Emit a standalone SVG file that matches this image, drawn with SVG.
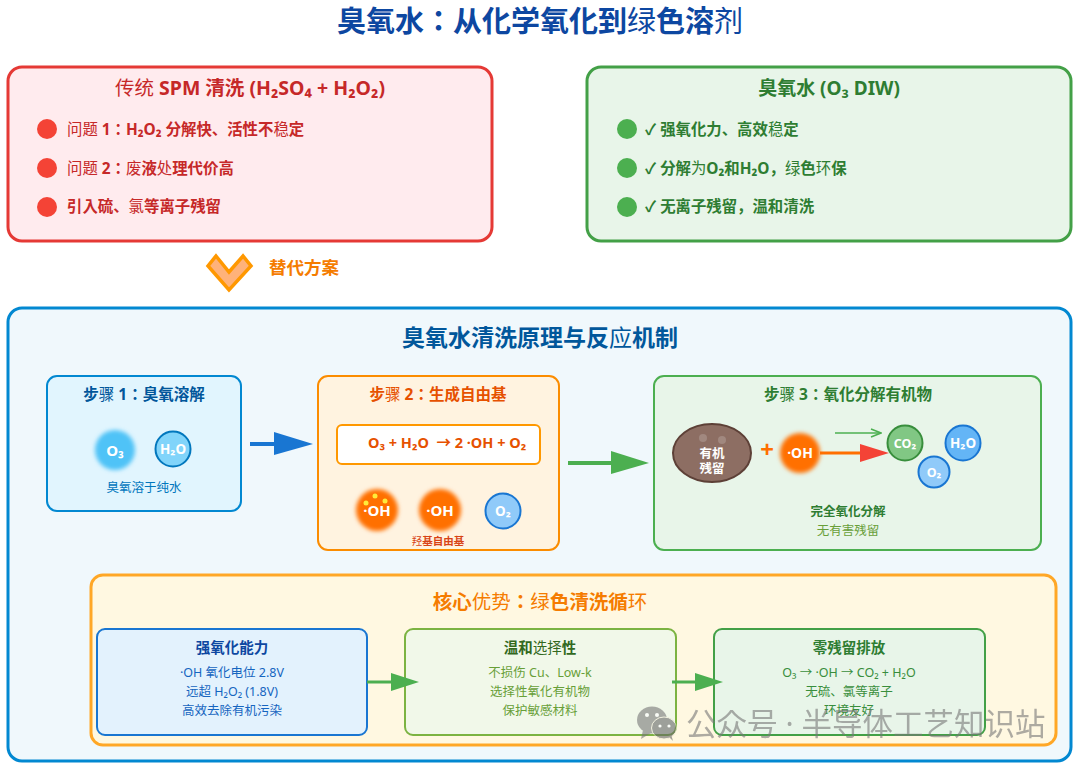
<svg xmlns="http://www.w3.org/2000/svg" width="1080" height="767" viewBox="0 0 1080 767">
<style>
text{font-family:"Noto Sans","Noto Sans CJK JP",sans-serif;text-anchor:middle}
.b{font-weight:700}
.l{text-anchor:start}
.w{fill:#fff;font-weight:700}
.box{stroke-width:3}
.card{stroke-width:2}
.red{fill:#c62828;font-weight:700;font-size:15.4px}
.grn{fill:#2e7d32;font-weight:700;font-size:15.4px}
.t15{font-size:15.5px;font-weight:700}
.t14{font-size:14.5px;font-weight:700}
.t12{font-size:12.5px}
.oh{fill:#ff6f00;filter:url(#blur)}
.n{font-weight:400}
</style>
<defs>
<filter id="blur" x="-30%" y="-30%" width="160%" height="160%"><feGaussianBlur stdDeviation="2"/></filter>
<marker id="open" markerWidth="12" markerHeight="10" refX="11" refY="5" orient="auto" markerUnits="userSpaceOnUse"><path d="M1 1 L11 5 L1 9" fill="none" stroke="#4caf50" stroke-width="1.5"/></marker>
</defs>
<rect width="1080" height="767" fill="#fff"/>
<text id="title" x="540" y="32" font-size="29" class="b" fill="#0d47a1">臭氧水：从化学氧化到<tspan class="n">绿</tspan>色溶<tspan class="n">剂</tspan></text>

<g id="spm">
<rect class="box" x="8" y="67" width="484" height="174" rx="14" fill="#ffebee" stroke="#e53935"/>
<text x="250" y="95" font-size="19.5" class="b" fill="#c62828"><tspan class="n">传统</tspan> SPM 清洗 (H₂SO₄ + H₂O₂)</text>
<circle cx="47" cy="129" r="10" fill="#f44336"/><text class="red l" x="67" y="135"><tspan class="n">问题</tspan> 1：H₂O₂ 分解快、活性不<tspan class="n">稳</tspan>定</text>
<circle cx="47" cy="168" r="10" fill="#f44336"/><text class="red l" x="67" y="174"><tspan class="n">问题</tspan> 2：<tspan class="n">废</tspan>液<tspan class="n">处</tspan>理代价高</text>
<circle cx="47" cy="207" r="10" fill="#f44336"/><text class="red l" x="67" y="212">引入硫、<tspan class="n">氯</tspan>等离子残留</text>
</g>

<g id="o3diw">
<rect class="box" x="587" y="67" width="484" height="174" rx="14" fill="#e8f5e9" stroke="#43a047"/>
<text x="829" y="95" font-size="19" class="b" fill="#2e7d32">臭氧水 (O₃ DIW)</text>
<circle cx="627" cy="129" r="10" fill="#4caf50"/><text class="grn l" x="645" y="135">✓ 强氧化力、高效<tspan class="n">稳</tspan>定</text>
<circle cx="627" cy="168" r="10" fill="#4caf50"/><text class="grn l" x="645" y="174">✓ 分解<tspan class="n">为</tspan>O₂和H₂O，<tspan class="n">绿</tspan>色<tspan class="n">环</tspan>保</text>
<circle cx="627" cy="207" r="10" fill="#4caf50"/><text class="grn l" x="645" y="212">✓ 无离子残留，温和清洗</text>
</g>

<g id="replace">
<polygon points="216,256 229,272 243,256 251,266 229,290 208,266" fill="#ffb27a" stroke="#ff9800" stroke-width="3.5"/>
<text class="l b" x="269" y="274" font-size="17.5" fill="#f57c00">替代方案</text>
</g>

<g id="panel">
<rect class="box" x="8" y="308" width="1063" height="453" rx="14" fill="#f0f8fc" stroke="#0288d1"/>
<text x="540" y="346" font-size="23" class="b" fill="#01579b">臭氧水清洗原理与反<tspan class="n">应</tspan>机制</text>
</g>

<g id="step1">
<rect class="card" x="47" y="376" width="194" height="135" rx="10" fill="#e1f5fe" stroke="#0288d1"/>
<text class="t15" x="144" y="400" fill="#01579b">步<tspan class="n">骤</tspan> 1：臭氧溶解</text>
<circle cx="115" cy="450" r="20" fill="#4fc3f7" filter="url(#blur)"/>
<text class="w" x="115" y="456" font-size="15">O₃</text>
<circle cx="173" cy="449" r="17.5" fill="#81d4fa" stroke="#0277bd" stroke-width="2"/>
<text class="w" x="173" y="454" font-size="13.5">H₂O</text>
<text class="t12" x="144" y="492" fill="#0277bd">臭氧溶于纯水</text>
</g>

<g id="step2">
<rect class="card" x="318" y="376" width="241" height="174" rx="10" fill="#fff3e0" stroke="#fb8c00"/>
<text class="t15" x="438" y="400" fill="#e65100">步<tspan class="n">骤</tspan> 2：生成自由基</text>
<rect x="337" y="425" width="203" height="39" rx="5" fill="#fff" stroke="#ff9800" stroke-width="2"/>
<text class="t14 l" x="368" y="448" fill="#e65100" xml:space="preserve">O₃ + H₂O  → 2 ·OH + O₂</text>
<circle class="oh" cx="377" cy="510" r="21"/>
<circle cx="366" cy="503" r="2.5" fill="#ffeb3b"/><circle cx="375" cy="496" r="2.5" fill="#ffeb3b"/><circle cx="385" cy="501" r="2.5" fill="#ffeb3b"/>
<text class="w" x="377" y="516" font-size="15">·OH</text>
<circle class="oh" cx="440" cy="510" r="21"/>
<text class="w" x="440" y="516" font-size="15">·OH</text>
<circle cx="503" cy="511" r="17.5" fill="#90caf9" stroke="#1976d2" stroke-width="2"/>
<text class="w" x="503" y="516" font-size="13.5">O₂</text>
<text x="438" y="545" font-size="10.5" class="b" fill="#d84315"><tspan class="n">羟</tspan>基自由基</text>
</g>

<g id="step3">
<rect class="card" x="654" y="376" width="387" height="174" rx="10" fill="#e8f5e9" stroke="#4caf50"/>
<text class="t15" x="848" y="400" fill="#2e7d32">步<tspan class="n">骤</tspan> 3：氧化分解有机物</text>
<ellipse cx="712" cy="453" rx="39" ry="29" fill="#8d6e63" stroke="#5d4037" stroke-width="2"/>
<circle cx="703" cy="438" r="4" fill="#a1887f"/><circle cx="722" cy="440" r="4" fill="#a1887f"/>
<text class="w t12" x="712" y="458">有机</text>
<text class="w t12" x="712" y="473">残留</text>
<text x="767" y="458" font-size="24" class="b" fill="#ff6f00">+</text>
<circle class="oh" cx="800" cy="453" r="20"/>
<text class="w" x="800" y="458" font-size="14">·OH</text>
<circle cx="905" cy="443" r="17.5" fill="#81c784" stroke="#388e3c" stroke-width="2"/>
<text class="w" x="905" y="448" font-size="12.5">CO₂</text>
<circle cx="963" cy="443" r="17.5" fill="#64b5f6" stroke="#1976d2" stroke-width="2"/>
<text class="w" x="963" y="448" font-size="13.5">H₂O</text>
<circle cx="934" cy="472" r="15.5" fill="#90caf9" stroke="#1976d2" stroke-width="2"/>
<text class="w t12" x="934" y="477">O₂</text>
<text x="848" y="516" font-size="12.5" class="b" fill="#2e7d32">完全氧化分解</text>
<text class="t12" x="848" y="535" fill="#689f38">无有害残留</text>
</g>

<g id="advantages">
<rect class="box" x="91" y="575" width="965" height="170" rx="12" fill="#fff8e1" stroke="#ffa726"/>
<text x="540" y="609" font-size="19.5" class="b" fill="#f57c00">核心<tspan class="n">优势</tspan>：<tspan class="n">绿</tspan>色清洗循<tspan class="n">环</tspan></text>
</g>

<g id="adv1">
<rect class="card" x="97" y="629" width="270" height="106" rx="8" fill="#e3f2fd" stroke="#1976d2"/>
<text class="t14" x="232" y="653" fill="#0d47a1">强氧化能力</text>
<text class="t12" x="232" y="677" fill="#1565c0">·OH 氧化电位 2.8V</text>
<text class="t12" x="232" y="696" fill="#1565c0">远超 H₂O₂ (1.8V)</text>
<text class="t12" x="232" y="715" fill="#1565c0">高效去除有机污染</text>
</g>
<g id="adv2">
<rect class="card" x="405" y="629" width="271" height="106" rx="8" fill="#f1f8e9" stroke="#7cb342"/>
<text class="t14" x="540" y="653" fill="#33691e">温和<tspan class="n">选择</tspan>性</text>
<text class="t12" x="540" y="677" fill="#689f38">不损伤 Cu、Low-k</text>
<text class="t12" x="540" y="696" fill="#689f38">选择性氧化有机物</text>
<text class="t12" x="540" y="715" fill="#689f38">保护敏感材料</text>
</g>
<g id="adv3">
<rect class="card" x="714" y="629" width="271" height="106" rx="8" fill="#e8f5e9" stroke="#43a047"/>
<text class="t14" x="849" y="653" fill="#2e7d32">零残留排放</text>
<text class="t12" x="849" y="677" fill="#388e3c">O₃ → ·OH → CO₂ + H₂O</text>
<text class="t12" x="849" y="696" fill="#388e3c">无硫、氯等离子</text>
<text class="t12" x="849" y="715" fill="#388e3c">环境友好</text>
</g>

<g id="connectors">
<line x1="250" y1="444" x2="276" y2="444" stroke="#1976d2" stroke-width="4"/>
<polygon points="274,432 313,444 274,455" fill="#1976d2"/>
<line x1="568" y1="463" x2="613" y2="463" stroke="#4caf50" stroke-width="4"/>
<polygon points="611,451 649,463 611,474" fill="#4caf50"/>
<line x1="835" y1="433" x2="881" y2="433" stroke="#4caf50" stroke-width="1.5" marker-end="url(#open)"/>
<line x1="820" y1="453" x2="862" y2="453" stroke="#ff6f00" stroke-width="3"/>
<polygon points="860,444 889,453 860,462" fill="#f44336"/>
<line x1="367" y1="682" x2="393" y2="682" stroke="#4caf50" stroke-width="3"/>
<polygon points="391,673 419,682 391,691" fill="#4caf50"/>
<line x1="672" y1="682" x2="697" y2="682" stroke="#4caf50" stroke-width="3"/>
<polygon points="695,673 723,682 695,691" fill="#4caf50"/>
</g>

<g id="watermark" opacity="0.6">
<ellipse cx="652" cy="720" rx="15" ry="13.5" fill="#777"/>
<path d="M643 730 L641 739 L651 733Z" fill="#777"/>
<ellipse cx="664" cy="728" rx="12.5" ry="11" fill="#666" stroke="#f5f0dc" stroke-width="1"/>
<path d="M669 737 L673 741 L671 734Z" fill="#666"/>
<circle cx="647" cy="715" r="2" fill="#fff"/><circle cx="657" cy="715" r="2" fill="#fff"/>
<circle cx="660" cy="726" r="1.6" fill="#fff"/><circle cx="669" cy="726" r="1.6" fill="#fff"/>
<text class="l" x="686" y="735" font-size="30.5" fill="#777" xml:space="preserve">公众号 · 半导体工艺知识站</text>
</g>
</svg>
